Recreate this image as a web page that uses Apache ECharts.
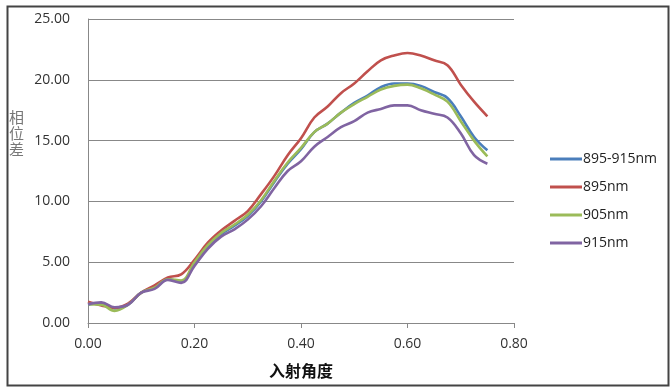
<!DOCTYPE html>
<html>
<head>
<meta charset="utf-8">
<script src="https://cdn.jsdelivr.net/npm/echarts@6/dist/echarts.min.js"></script>
<style>
html,body{margin:0;padding:0;background:#fff;}
#c{width:670px;height:389px;}
</style>
</head>
<body>
<div id="c"></div>
<script>
const angles = [0,0.025,0.05,0.075,0.1,0.125,0.15,0.175,0.2,0.225,0.25,0.275,0.3,0.325,0.35,0.375,0.4,0.425,0.45,0.475,0.5,0.525,0.55,0.575,0.6,0.625,0.65,0.675,0.7,0.725,0.75];
const s895_915 = [1.5,1.65,1.2,1.5,2.5,2.9,3.6,3.4,4.9,6.3,7.3,8.0,8.8,10.0,11.6,13.1,14.3,15.7,16.4,17.3,18.1,18.7,19.4,19.7,19.7,19.5,19.0,18.5,17.0,15.3,14.2];
const s895 = [1.75,1.45,1.25,1.6,2.5,3.1,3.75,4.0,5.2,6.6,7.6,8.4,9.2,10.6,12.1,13.8,15.2,16.9,17.8,18.9,19.7,20.7,21.6,22.0,22.2,22.0,21.6,21.2,19.6,18.2,17.0];
const s905 = [1.55,1.5,1.0,1.5,2.5,2.9,3.6,3.5,5.0,6.4,7.4,8.1,8.9,10.1,11.7,13.2,14.4,15.7,16.4,17.3,18.0,18.6,19.2,19.5,19.6,19.3,18.8,18.2,16.6,15.0,13.7];
const s915 = [1.55,1.7,1.3,1.5,2.5,2.8,3.55,3.3,4.7,6.1,7.1,7.7,8.5,9.6,11.1,12.5,13.3,14.5,15.3,16.1,16.6,17.3,17.6,17.9,17.9,17.5,17.2,16.9,15.6,13.8,13.1];
const seriesNames = ['895-915nm','895nm','905nm','915nm'];
const seriesData = [s895_915, s895, s905, s915];
const colors = ['#4A7EBB','#C0504D','#9BBB59','#8064A2'];
const xTicks = {min:0, max:0.8, interval:0.2};
const yTicks = {min:0, max:25, interval:5};

const chart = echarts.init(document.getElementById('c'), null, {renderer:'canvas'});
const numFont = "'Open Sans', 'Liberation Sans', sans-serif";
chart.setOption({
  animation:false,
  backgroundColor:'#fff',
  color: colors,
  grid:{left:88, right:156, top:19, bottom:66, containLabel:false},
  legend:{
    orient:'vertical', left:545, top:147,
    itemWidth:32, itemHeight:3, itemGap:14,
    icon:'rect',
    textStyle:{fontFamily:numFont, fontSize:14, color:'#222', lineHeight:14, padding:[0,0,0,-4]},
    data: seriesNames
  },
  xAxis:{
    type:'value', min:xTicks.min, max:xTicks.max, interval:xTicks.interval,
    name:'入射角度', nameLocation:'middle', nameGap:40,
    nameTextStyle:{fontFamily:"'Noto Sans CJK SC', sans-serif", fontSize:16, fontWeight:'bold', color:'#111'},
    axisLine:{show:true, lineStyle:{color:'#888', width:1}},
    axisTick:{show:true, length:5, lineStyle:{color:'#888'}},
    axisLabel:{fontFamily:numFont, fontSize:14, color:'#333', margin:14, formatter:v=>v.toFixed(2)},
    splitLine:{show:false}
  },
  yAxis:{
    type:'value', min:yTicks.min, max:yTicks.max, interval:yTicks.interval,
    axisLine:{show:true, lineStyle:{color:'#888', width:1}},
    axisTick:{show:false},
    axisLabel:{fontFamily:numFont, fontSize:14, color:'#333', margin:18, formatter:v=>v.toFixed(2)},
    splitLine:{show:true, lineStyle:{color:'#888', width:1}}
  },
  graphic:[
    {type:'rect', left:5, top:4, shape:{width:661, height:379}, style:{fill:'none', stroke:'#444', lineWidth:2}, silent:true},
    {type:'text', left:9, top:109, style:{text:'相\n位\n差', fontFamily:"'Noto Sans CJK SC', sans-serif", fontSize:15, lineHeight:16, fill:'#777'}, silent:true}
  ],
  series: seriesNames.map((n,i)=>({
    name:n, type:'line', smooth:0.4, showSymbol:false,
    lineStyle:{width:2.6, color:colors[i]},
    data: angles.map((a,j)=>[a, seriesData[i][j]])
  }))
});
</script>
</body>
</html>
